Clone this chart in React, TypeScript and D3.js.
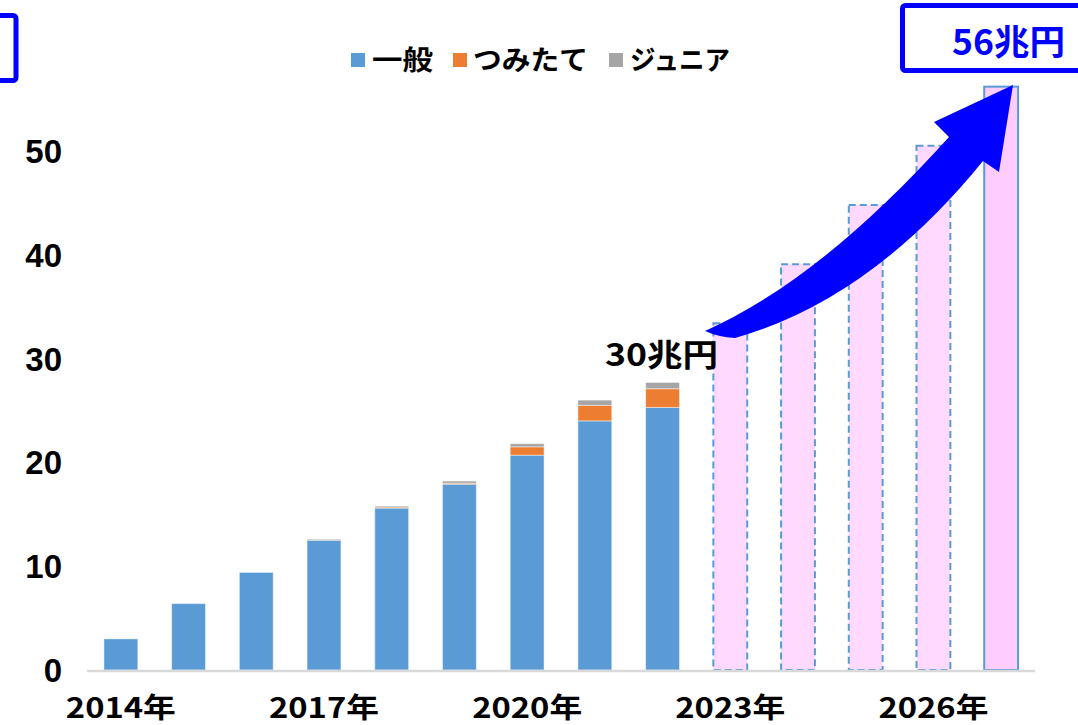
import React from "react";
import * as d3 from "d3";

const years = [2014, 2015, 2016, 2017, 2018, 2019, 2020, 2021, 2022, 2023, 2024, 2025, 2026, 2027];
const actualYears = [2014, 2015, 2016, 2017, 2018, 2019, 2020, 2021, 2022];
const general = [3.0, 6.4, 9.4, 12.5, 15.6, 17.9, 20.7, 24.0, 25.3];
const tsumitate = [0, 0, 0, 0, 0.1, 0.1, 0.8, 1.5, 1.8];
const junior = [0, 0, 0, 0.1, 0.1, 0.2, 0.3, 0.5, 0.6];
const projYears = [2023, 2024, 2025, 2026, 2027];
const projTotal = [33.4, 39.1, 44.8, 50.5, 56.2];
const yTicks = [0, 10, 20, 30, 40, 50];
const xLabelYears = [2014, 2017, 2020, 2023, 2026];
const seriesNames = ["一般", "つみたて", "ジュニア"];
const seriesColors = ["#5B9BD5", "#ED7D31", "#A5A5A5"];

const W = 1078;
const H = 725;
const JP = "'Noto Sans CJK JP', 'Noto Sans', sans-serif";

export default function App() {
  const x = d3.scaleBand<number>().domain(years).range([87, 1035]).paddingInner(0.5).paddingOuter(0.25);
  const y = d3.scaleLinear().domain([0, 50]).range([670, 151]);

  const rows = actualYears.map((yr, i) => ({ yr, general: general[i], tsumitate: tsumitate[i], junior: junior[i] }));
  const stack = d3.stack<any>().keys(["general", "tsumitate", "junior"])(rows);

  const arrowPath = "M 705 331 Q 820 280 949 137 L 934 122 L 1013 85 L 999 172 L 983 161 Q 870 300 735 338 Q 718 337 705 331 Z";

  const legendItems = [
    { sx: 351, tx: 372, tw: 61 },
    { sx: 453, tx: 473, tw: 115 },
    { sx: 609, tx: 630, tw: 100 },
  ];

  return (
    <svg width={W} height={H} style={{ position: "absolute", left: 0, top: 0, background: "#fff" }}>
      {/* stacked actual bars */}
      {stack.map((s, si) =>
        s.map((d: any, i: number) => {
          const h = y(d[0]) - y(d[1]);
          if (h <= 0) return null;
          return (
            <rect
              key={`${si}-${i}`}
              x={x(rows[i].yr)}
              y={y(d[1])}
              width={x.bandwidth()}
              height={h}
              fill={seriesColors[si]}
              stroke="rgba(255,255,255,0.45)"
              strokeWidth={1}
            />
          );
        })
      )}
      {/* projected bars */}
      {projYears.map((yr, i) => {
        const last = i === projYears.length - 1;
        return (
          <rect
            key={yr}
            x={x(yr)}
            y={y(projTotal[i])}
            width={x.bandwidth()}
            height={y(0) - y(projTotal[i])}
            fill={last ? "#FFCCFF" : "#FFD9FF"}
            stroke="#5B9BD5"
            strokeWidth={2}
            strokeDasharray={last ? undefined : "7,4"}
          />
        );
      })}
      {/* axis line */}
      <line x1={87} x2={1035} y1={671} y2={671} stroke="#D9D9D9" strokeWidth={2.5} />
      {/* y tick labels */}
      {yTicks.map((t) => (
        <text
          key={t}
          x={62}
          y={y(t) + 12}
          textAnchor="end"
          fontFamily="'Liberation Sans', Arial, sans-serif"
          fontWeight={700}
          fontSize={33}
          fill="#000"
        >
          {t}
        </text>
      ))}
      {/* x labels */}
      {xLabelYears.map((yr) => (
        <text
          key={yr}
          x={(x(yr) as number) + x.bandwidth() / 2 - 55}
          y={718}
          textLength={110}
          lengthAdjust="spacingAndGlyphs"
          fontFamily={JP}
          fontWeight={700}
          fontSize={28}
          fill="#000"
        >
          {yr}年
        </text>
      ))}
      {/* legend */}
      {legendItems.map((it, i) => (
        <g key={i}>
          <rect x={it.sx} y={53} width={14} height={14} fill={seriesColors[i]} />
          <text
            x={it.tx}
            y={70}
            textLength={it.tw}
            lengthAdjust="spacingAndGlyphs"
            fontFamily={JP}
            fontWeight={700}
            fontSize={27}
            fill="#000"
          >
            {seriesNames[i]}
          </text>
        </g>
      ))}
      {/* 30兆円 label */}
      <text
        x={605}
        y={366}
        textLength={113}
        lengthAdjust="spacingAndGlyphs"
        fontFamily={JP}
        fontWeight={700}
        fontSize={31}
        fill="#000"
      >
        30兆円
      </text>
      {/* arrow */}
      <path d={arrowPath} fill="#0000FF" />
      {/* top-left box */}
      <rect x={-20} y={15.5} width={36} height={65} rx={3} fill="none" stroke="#0000FF" strokeWidth={5} />
      {/* top-right box */}
      <rect x={902.5} y={5.5} width={190} height={65} rx={3} fill="#fff" stroke="#0000FF" strokeWidth={5} />
      <text
        x={952}
        y={55}
        textLength={113}
        lengthAdjust="spacingAndGlyphs"
        fontFamily={JP}
        fontWeight={700}
        fontSize={35}
        fill="#0000FF"
      >
        56兆円
      </text>
    </svg>
  );
}
